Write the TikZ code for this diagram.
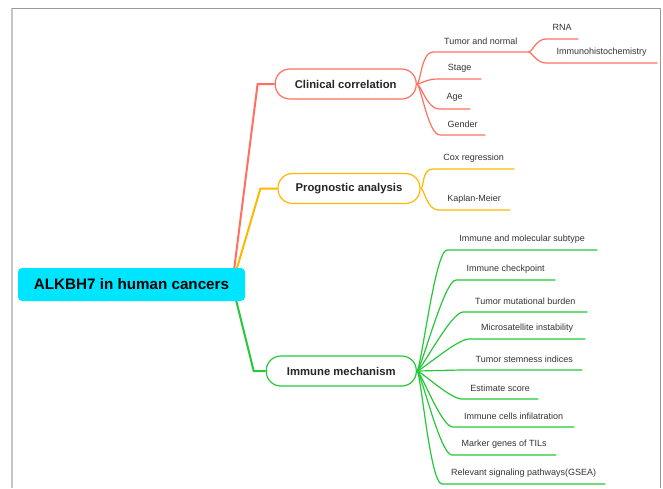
\documentclass[tikz,border=0pt]{standalone}
\usepackage{fontspec}
\setmainfont{Liberation Sans}
\usepackage{tikz}
\usetikzlibrary{backgrounds}
\definecolor{cred}{RGB}{255,112,96}
\definecolor{corange}{RGB}{255,184,0}
\definecolor{cgreen}{RGB}{36,200,56}
\definecolor{ccyan}{RGB}{0,229,255}
\definecolor{ctext}{RGB}{51,51,51}

\begin{document}
\begin{tikzpicture}[x=1pt,y=-1pt]
  \tikzstyle{every node}=[inner sep=0pt]
  \tikzstyle{root}=[fill=ccyan,rounded corners=4pt,minimum width=227pt,minimum height=33pt,font=\bfseries\fontsize{15.2}{18}\selectfont]
  \tikzstyle{topic}=[draw,fill=white,line width=1.2pt,rounded corners=14.5pt,minimum height=30pt,text=black!85,font=\bfseries\fontsize{11.3}{13}\selectfont]
  \tikzstyle{leaf}=[anchor=south west,minimum height=22pt,text=ctext,font=\fontsize{9}{11}\selectfont]
  \tikzstyle{trunk}=[line width=2pt]
  \tikzstyle{branch}=[line width=1.2pt]

  \useasboundingbox (0,0) rectangle (663,488);
  \draw[gray!45,line width=1.5pt] (12,488) -- (12,8);
  \draw[gray!80,line width=0.8pt] (12,8) -- (660,8) -- (660,488);

  \node[root] (root) at (131.5,284.5) {ALKBH7 in human cancers};
  \coordinate (hub) at ([xshift=-13pt]root.east);

  \node[topic,draw=cred,minimum width=141pt]    (clin) at (345.7,84)  {Clinical correlation};
  \node[topic,draw=corange,minimum width=142pt] (prog) at (349,188.5) {Prognostic analysis};
  \node[topic,draw=cgreen,minimum width=150pt]  (imm)  at (341.3,371) {Immune mechanism};

  \begin{scope}[on background layer]
    \draw[trunk,cred]    (hub) -- ([xshift=-17pt]clin.west) -- (clin.west);
    \draw[trunk,corange] (hub) -- ([xshift=-17pt]prog.west) -- (prog.west);
    \draw[trunk,cgreen]  (hub) -- ([xshift=-12pt]imm.west)  -- (imm.west);
  \end{scope}

  \node[leaf,minimum width=95pt]  (tn)     at (433,52)  {Tumor and normal};
  \node[leaf,minimum width=43pt]  (stage)  at (438,79)  {Stage};
  \node[leaf,minimum width=31pt]  (age)    at (439,109) {Age};
  \node[leaf,minimum width=45pt]  (gender) at (440,135) {Gender};
  \node[leaf,minimum width=32pt]  (rna)    at (546,39)  {RNA};
  \node[leaf,minimum width=111pt] (ihc)    at (546,63)  {Immunohistochemistry};

  \node[leaf,minimum width=81pt]  (cox)    at (433,169)   {Cox regression};
  \node[leaf,minimum width=71pt]  (km)     at (438.5,210) {Kaplan-Meier};

  \node[leaf,minimum width=150pt] (ims)    at (447,250) {Immune and molecular subtype};
  \node[leaf,minimum width=99pt]  (ic)     at (456,280) {Immune checkpoint};
  \node[leaf,minimum width=124pt] (tmb)    at (463,312) {Tumor mutational burden};
  \node[leaf,minimum width=116pt] (msi)    at (469,339) {Microsatellite instability};
  \node[leaf,minimum width=116pt] (tsi)    at (466,370) {Tumor stemness indices};
  \node[leaf,minimum width=76pt]  (es)     at (462,399) {Estimate score};
  \node[leaf,minimum width=121pt] (ici)    at (453,427) {Immune cells infilatration};
  \node[leaf,minimum width=104pt] (mg)     at (452,455) {Marker genes of TILs};
  \node[leaf,minimum width=163pt] (rsp)    at (442,484) {Relevant signaling pathways(GSEA)};

  \draw[branch,cred] (clin.east) .. controls +(4,0) and +(-12,0) .. (tn.south west) -- (tn.south east);
  \draw[branch,cred] (clin.east) .. controls +(4,0) and +(-12,0) .. (stage.south west) -- (stage.south east);
  \draw[branch,cred] (clin.east) .. controls +(4,0) and +(-12,0) .. (age.south west) -- (age.south east);
  \draw[branch,cred] (clin.east) .. controls +(4,0) and +(-12,0) .. (gender.south west) -- (gender.south east);
  \draw[branch,cred] (tn.south east) .. controls +(4,0) and +(-10,0) .. (rna.south west) -- (rna.south east);
  \draw[branch,cred] (tn.south east) .. controls +(4,0) and +(-10,0) .. (ihc.south west) -- (ihc.south east);

  \draw[branch,corange] (prog.east) .. controls +(4,0) and +(-12,0) .. (cox.south west) -- (cox.south east);
  \draw[branch,corange] (prog.east) .. controls +(4,0) and +(-12,0) .. (km.south west) -- (km.south east);

  \draw[branch,cgreen] (imm.east) .. controls +(4,0) and +(-12,0) .. (ims.south west) -- (ims.south east);
  \draw[branch,cgreen] (imm.east) .. controls +(4,0) and +(-12,0) .. (ic.south west) -- (ic.south east);
  \draw[branch,cgreen] (imm.east) .. controls +(4,0) and +(-12,0) .. (tmb.south west) -- (tmb.south east);
  \draw[branch,cgreen] (imm.east) .. controls +(4,0) and +(-12,0) .. (msi.south west) -- (msi.south east);
  \draw[branch,cgreen] (imm.east) .. controls +(4,0) and +(-12,0) .. (tsi.south west) -- (tsi.south east);
  \draw[branch,cgreen] (imm.east) .. controls +(4,0) and +(-12,0) .. (es.south west) -- (es.south east);
  \draw[branch,cgreen] (imm.east) .. controls +(4,0) and +(-12,0) .. (ici.south west) -- (ici.south east);
  \draw[branch,cgreen] (imm.east) .. controls +(4,0) and +(-12,0) .. (mg.south west) -- (mg.south east);
  \draw[branch,cgreen] (imm.east) .. controls +(4,0) and +(-12,0) .. (rsp.south west) -- (rsp.south east);
\end{tikzpicture}
\end{document}
